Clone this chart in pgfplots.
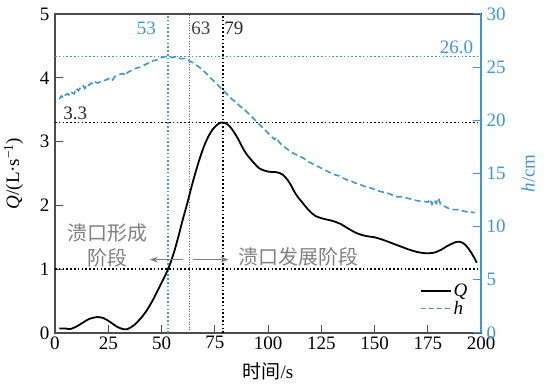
\documentclass[border=0pt]{standalone}
\usepackage{fontspec}
\setmainfont{Liberation Serif}
\newfontfamily\cjk{Noto Sans CJK SC}
\usepackage{pgfplots}
\pgfplotsset{compat=1.18}
\usetikzlibrary{arrows.meta}
\definecolor{hblue}{RGB}{62,150,215}
\definecolor{tgray}{RGB}{128,128,128}
\begin{document}
\begin{tikzpicture}[font=\fontsize{19}{22}\selectfont]
\begin{axis}[
  scale only axis, width=426pt, height=319pt,
  xmin=0, xmax=200, ymin=0, ymax=5,
  xtick={0,25,...,200}, ytick={0,1,...,5},
  xtick pos=bottom, ytick pos=left,
  tick align=inside,
  /pgf/number format/assume math mode=true,
  axis line style={black!70, line width=1.4pt},
  major tick style={black!70, line width=1pt},
  major tick length=8pt,
  tick label style={font=\fontsize{19}{22}\selectfont},
  yticklabel style={xshift=-2pt},
  label style={font=\fontsize{19}{22}\selectfont},
  xlabel={{\cjk 时间}/s},
  ylabel={\textit{Q}/(L·s\textsuperscript{−1})},
  xlabel style={yshift=-6pt},
  ylabel style={yshift=10pt},
  clip=false,
]
\path ([shift={(-55pt,-59pt)}]rel axis cs:0,0) rectangle ([shift={(67pt,14pt)}]rel axis cs:1,1);
% reference lines
\addplot[black, line width=1.6pt, dash pattern=on 1.6pt off 2.2pt] coordinates {(0,3.3) (200,3.3)};
\addplot[black, line width=1.6pt, dash pattern=on 1.6pt off 2.2pt] coordinates {(0,1) (200,1)};
\addplot[hblue, line width=1.6pt, dash pattern=on 1.6pt off 2.2pt] coordinates {(53,0) (53,5)};
\addplot[black!60, line width=1pt, dash pattern=on 1pt off 1.6pt] coordinates {(63,0) (63,5)};
\addplot[black, line width=1.6pt, dash pattern=on 1.6pt off 2.2pt] coordinates {(79,0) (79,5)};
% Q series
\addplot[black, line width=1.8pt, smooth] coordinates {
(2,0.07) (5,0.07) (7,0.06) (10,0.10) (13,0.16) (16,0.22) (20,0.25) (23,0.23)
(26,0.17) (29,0.10) (32,0.06) (34,0.06) (37,0.12) (40,0.22) (43,0.35) (46,0.52)
(49,0.72) (52,0.92) (54,1.08) (56,1.28) (58,1.52) (60,1.78) (62,2.02) (64,2.28)
(66,2.52) (68,2.74) (70,2.93) (72,3.08) (74,3.19) (76,3.26) (78,3.30) (80,3.29)
(82,3.24) (84,3.15) (86,3.04) (88,2.91) (90,2.80) (93,2.68) (96,2.58) (100,2.53)
(104,2.52) (107,2.48) (110,2.36) (113,2.18) (116,2.05) (119,1.93) (122,1.84)
(126,1.79) (130,1.76) (134,1.71) (138,1.63) (142,1.56) (146,1.52) (150,1.50)
(154,1.46) (158,1.41) (162,1.36) (166,1.31) (170,1.27) (174,1.25) (178,1.26)
(181,1.30) (184,1.36) (187,1.41) (189,1.43) (191,1.42) (193,1.37) (195,1.28)
(197,1.17) (198,1.10)};
% annotations
\node[hblue, anchor=east] at (axis cs:49,4.78) {53};
\node[black!75] at (axis cs:68.5,4.78) {63};
\node[black!85] at (axis cs:84,4.78) {79};
\node[black!85] at (axis cs:9.5,3.45) {3.3};
\node[tgray, align=center, font=\cjk\fontsize{20}{25}\selectfont] at (axis cs:24.5,1.38) {溃口形成\\阶段};
\node[tgray, anchor=west, font=\cjk\fontsize{20}{24}\selectfont] at (axis cs:84.5,1.19) {溃口发展阶段};
\draw[tgray, line width=1.4pt, -{Stealth[length=8pt,width=6pt]}] (axis cs:60,1.15) -- (axis cs:44.5,1.15);
\draw[tgray, line width=1.4pt, -{Stealth[length=8pt,width=6pt]}] (axis cs:65,1.15) -- (axis cs:81.5,1.15);
\end{axis}
\begin{axis}[
  scale only axis, width=426pt, height=319pt,
  xmin=0, xmax=200, ymin=0, ymax=30,
  axis x line=none,
  axis y line*=right,
  ytick={0,5,...,30},
  tick align=inside,
  /pgf/number format/assume math mode=true,
  y axis line style={hblue, line width=1.4pt},
  major tick style={hblue, line width=1pt},
  major tick length=8pt,
  yticklabel style={hblue, font=\fontsize{19}{22}\selectfont, xshift=2pt},
  ylabel={\textit{h}/cm},
  ylabel style={hblue, font=\fontsize{19}{22}\selectfont, yshift=-9pt},
  legend style={at={(0.98,0.04)}, anchor=south east, draw=none, fill=none,
    font=\fontsize{19}{21}\selectfont, row sep=-1pt},
  legend image code/.code={\draw[#1] (0pt,0pt) -- (30pt,0pt);},
  legend cell align=left,
  clip=false,
]
\addlegendimage{black, line width=1.8pt}
\addlegendentry{\textit{Q}}
\addlegendimage{hblue, line width=1.4pt, dash pattern=on 5pt off 3pt}
\addlegendentry{\textit{h}}
\addplot[hblue, line width=1.6pt, dash pattern=on 6pt off 3.5pt, forget plot] coordinates {
(2,22.0) (3,22.3) (4,22.1) (5,22.4) (6,22.5) (7,22.3) (8,22.6) (9,22.5) (10,23.0)
(11,22.8) (12,23.1) (13,23.3) (14,23.0) (15,23.4) (16,23.3) (17,23.5) (18,23.4)
(19,23.6) (20,23.5) (22,23.7) (24,23.8) (26,24.0) (27,23.8) (28,24.1) (30,24.3)
(32,24.4) (33,24.2) (34,24.5) (36,24.7) (38,24.9) (40,25.0) (42,25.2) (44,25.4)
(46,25.6) (48,25.7) (50,25.9) (52,26.0) (53,26.0) (55,25.9) (57,26.0) (59,25.8)
(61,25.8) (63,25.6) (65,25.4) (67,25.1) (69,24.8) (71,24.4) (73,24.0) (75,23.6)
(77,23.2) (79,22.8) (81,22.4) (83,22.0) (85,21.7) (87,21.3) (89,21.0) (91,20.6)
(93,20.2) (95,19.8) (97,19.4) (99,19.0) (101,18.6) (103,18.2) (104,18.4) (105,18.0)
(107,17.6) (109,17.3) (111,17.0) (113,16.8) (115,16.6) (117,16.4) (119,16.1)
(121,15.9) (123,15.7) (125,15.5) (127,15.3) (129,15.1) (131,14.9) (133,14.8)
(135,14.6) (137,14.4) (139,14.3) (141,14.1) (143,14.0) (145,13.8) (147,13.7)
(149,13.6) (151,13.4) (153,13.3) (155,13.2) (157,13.1) (159,12.9) (161,12.8)
(163,12.8) (165,12.7) (167,12.6) (169,12.5) (171,12.4) (173,12.4) (175,12.3)
(176,12.6) (177,12.1) (178,12.5) (179,12.2) (180,12.7) (181,12.1) (183,11.9)
(185,11.7) (187,11.6) (189,11.6) (191,11.5) (193,11.4) (195,11.4) (197,11.3)};
\addplot[hblue, line width=1.6pt, dash pattern=on 1.6pt off 2.2pt, forget plot] coordinates {(0,26) (200,26)};
\node[hblue, anchor=south east] at (axis cs:198,25.9) {26.0};
\end{axis}
\end{tikzpicture}
\end{document}
